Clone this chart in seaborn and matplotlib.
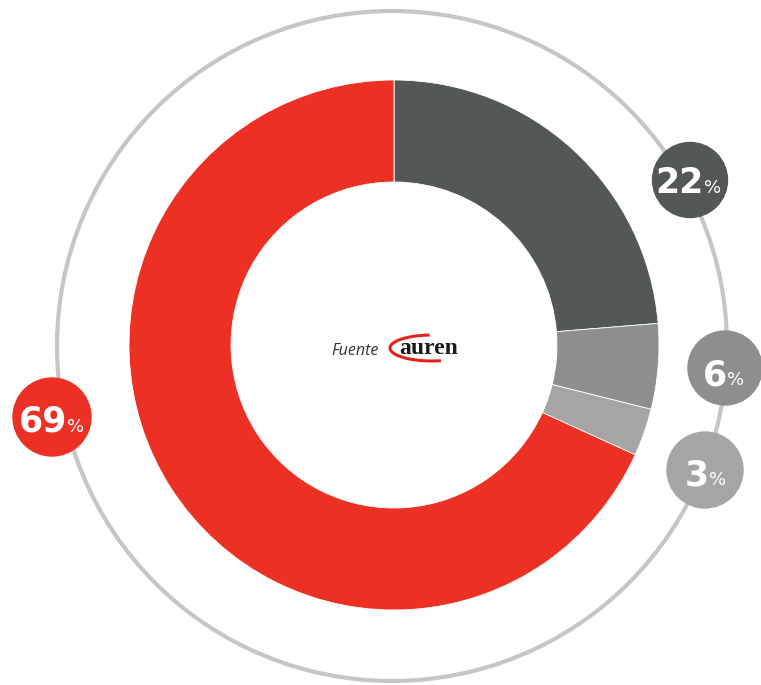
import matplotlib
matplotlib.use("Agg")
import matplotlib.pyplot as plt
from matplotlib.patches import Circle, Arc
import seaborn as sns

# ---- data ----
categories = ["Segmento A", "Segmento B", "Segmento C", "Segmento D"]
values = [23.7, 5.2, 2.9, 68.2]          # angular shares as drawn
labels = ["22", "6", "3", "69"]           # printed percentages
colors = ["#545758", "#8d8e90", "#a6a4a5", "#ec3124"]

sns.set_theme(style="white")
plt.rcParams['font.family'] = ['DejaVu Sans']

W, H = 761, 685
fig = plt.figure(figsize=(W / 100, H / 100), dpi=100)
ax = fig.add_axes([0, 0, 1, 1])

def Y(y):
    return H - y

cx, cy = 394, 345
ax.add_patch(Circle((392, Y(346)), 335, fill=False, ec="#c6c6c6", lw=3, zorder=1))

ax.pie(values, colors=colors, radius=265, center=(cx, Y(cy)), startangle=90,
       counterclock=False,
       wedgeprops=dict(width=102, edgecolor="white", linewidth=0.6, zorder=2))

# badges
badges = [
    # (cx, cy, r, color, split_x, baseline)
    (690, 180, 37.5, colors[0], 704, 193),
    (725, 368, 37, colors[1], 727, 385),
    (705, 470, 38, colors[2], 709, 485),
    (52, 417, 39, colors[3], 67, 432),
]
for (bx, by, br, bc, sx, bl), lab in zip(badges, labels):
    ax.add_patch(Circle((bx, Y(by)), br, color=bc, zorder=3))
    ax.text(sx, Y(bl), lab, ha="right", va="baseline", color="white",
            fontsize=25, fontweight="bold", zorder=4)
    ax.text(sx, Y(bl), "%", ha="left", va="baseline", color="white",
            fontsize=13, fontweight="normal", zorder=4)

# source
ax.text(379, Y(355), "Fuente", ha="right", va="baseline", color="#333333",
        fontsize=11.5, fontstyle="italic", fontweight="normal",
        family="Open Sans", zorder=4)
ax.text(399, Y(354), "auren", ha="left", va="baseline", color="#1a1a1a",
        fontsize=17, fontweight="bold", family="Liberation Serif", zorder=5)
ax.add_patch(Arc((432, Y(348)), 84, 26, angle=0, theta1=100, theta2=305,
                 color="#e3231b", lw=2.2, zorder=4))

ax.set_xlim(0, W)
ax.set_ylim(0, H)
ax.set_aspect("equal")
ax.axis("off")
fig.savefig("out.png", dpi=100, facecolor="white")
